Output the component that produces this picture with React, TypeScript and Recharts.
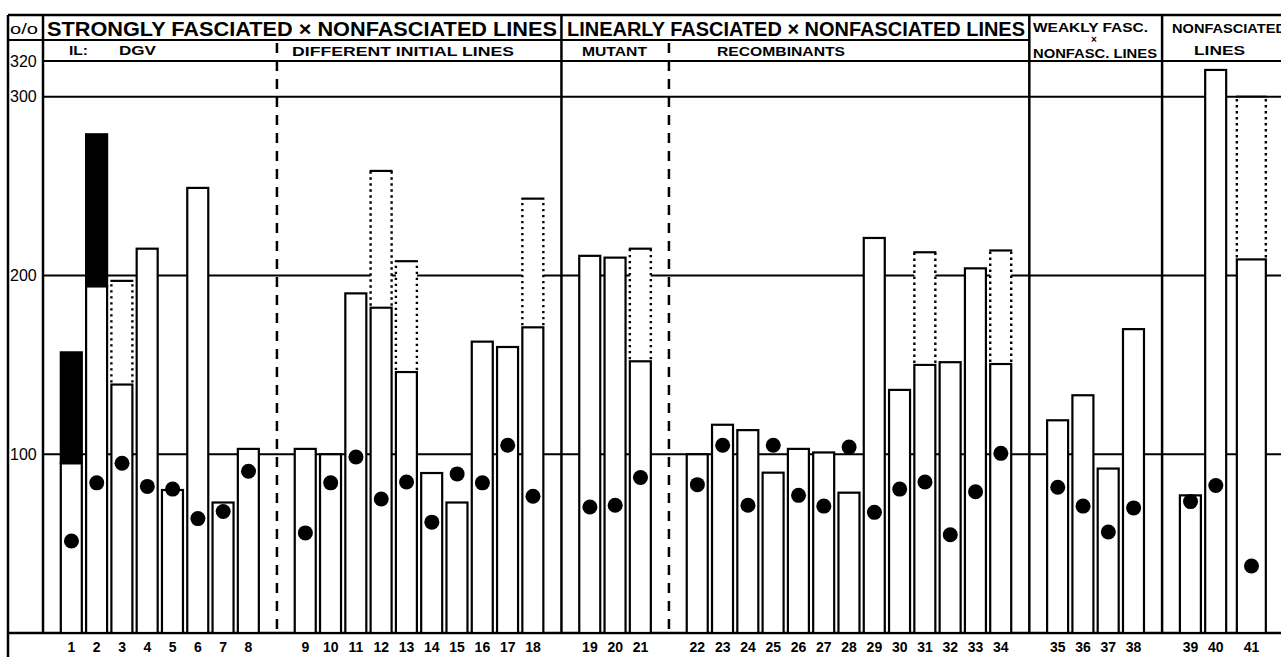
import React from 'react';
import { ComposedChart, Bar, Scatter, XAxis, YAxis, CartesianGrid, Customized } from 'recharts';

// ---------------- data ----------------
const itemLabels = ['1','2','3','4','5','6','7','8','9','10','11','12','13','14','15','16','17','18','19','20','21','22','23','24','25','26','27','28','29','30','31','32','33','34','35','36','37','38','39','40','41'];

// white (open) bar heights, %
const barValues = [95,194,139,215,80,249,73,103, 103,100,190,182,146,89.5,73,163,160,171, 211,210,152, 100,116.5,113.5,89.7,103,101,78.5,221,136,150,151.5,204,150.5, 119,133,92,170, 77,315, 209];

// tops of the solid black extensions
const blackTops = [157,279,null,null,null,null,null,null, null,null,null,null,null,null,null,null,null,null, null,null,null, null,null,null,null,null,null,null,null,null,null,null,null,null, null,null,null,null, null,null, null];

// tops of the dotted extensions
const dottedTops = [null,null,197,null,null,null,null,null, null,null,null,258.5,208,null,null,null,null,243, null,null,215, null,null,null,null,null,null,null,null,null,213,null,null,214, null,null,null,null, null,null, 300];

// black dots
const dotValues = [51.5,84,95,82,80.5,64,68,90.5, 56,84,98.5,75,84.5,62,89,84,105,76.5, 70.5,71.5,87, 83,105,71.5,105,77,71,104,67.5,80.5,84.5,55,79,100.5, 81.5,71,56.5,70, 73.5,82.5, 37.5];

const yTicks = [100, 200, 300, 320];

// ---------------- layout (groups of items) ----------------
const groupSizes = [8, 10, 3, 13, 4, 2, 1];
const groupGaps = [1.25, 1.25, 1.25, 1.25, 1.25, 0.41]; // extra slots before each following group
const dividerKinds = ['dashed', 'solid', 'dashed', 'solid', 'solid', null];
const WIDE_LABELS = ['41'];

const positions: number[] = [];
const groupFirst: number[] = [];
const groupLast: number[] = [];
{
  let p = 0;
  groupSizes.forEach((n, g) => {
    if (g > 0) p += groupGaps[g - 1];
    groupFirst.push(p);
    for (let k = 0; k < n; k++) { positions.push(p); p += 1; }
    groupLast.push(p - 1);
  });
}
const dividerPos = dividerKinds.map((_, g) => (groupLast[g] + groupFirst[g + 1]) / 2);

const CHART_W = 1300;
const CHART_H = 658;
const MARGIN = { top: 61, right: 5, bottom: 0, left: 8 };
const YAXIS_W = 35;
const XAXIS_H = 25;
const PLOT_LEFT = MARGIN.left + YAXIS_W;
const PLOT_W = CHART_W - PLOT_LEFT - MARGIN.right;
const SLOT = 25.29;
const X_MIN = -1.125;
const X_MAX = X_MIN + PLOT_W / SLOT;
const xPx = (p: number) => PLOT_LEFT + (p - X_MIN) * (PLOT_W / (X_MAX - X_MIN));

const FONT = "'Liberation Sans', Arial, Helvetica, sans-serif";
const INK = '#000';

const data = itemLabels.map((label, i) => ({
  x: positions[i],
  label,
  base: barValues[i],
  blackExtra: blackTops[i] != null ? (blackTops[i] as number) - barValues[i] : 0,
  dottedExtra: dottedTops[i] != null ? (dottedTops[i] as number) - barValues[i] : 0,
  dot: dotValues[i],
}));

function geom(props: any) {
  let { x, y, width, height } = props;
  if (height < 0) { y = y + height; height = -height; }
  const lab = props.payload?.label ?? props.label;
  if (WIDE_LABELS.includes(lab)) { x -= 4; width += 8; }
  return { x, y, width, height };
}

const BaseShape = (props: any) => {
  const { x, y, width, height } = geom(props);
  if (!height || height <= 0) return <g />;
  return <rect x={x} y={y} width={width} height={height} fill="#fff" stroke={INK} strokeWidth={2.2} />;
};

const BlackShape = (props: any) => {
  const { x, y, width, height } = geom(props);
  if (!height || height <= 0) return <g />;
  return <rect x={x} y={y} width={width} height={height} fill={INK} stroke={INK} strokeWidth={2.2} />;
};

const DottedShape = (props: any) => {
  const { x, y, width, height } = geom(props);
  if (!height || height <= 0) return <g />;
  return (
    <g>
      <rect x={x} y={y} width={width} height={Math.max(0, height - 1.5)} fill="#fff" stroke="none" />
      <line x1={x} y1={y + height - 2} x2={x} y2={y} stroke={INK} strokeWidth={2.4} strokeDasharray="2.4 3.6" />
      <line x1={x + width} y1={y + height - 2} x2={x + width} y2={y} stroke={INK} strokeWidth={2.4} strokeDasharray="2.4 3.6" />
      <line x1={x - 1} y1={y} x2={x + width + 1} y2={y} stroke={INK} strokeWidth={2.2} />
    </g>
  );
};

const DotShape = (props: any) => {
  if (props.cx == null || props.cy == null) return <g />;
  return <circle cx={props.cx} cy={props.cy} r={7.5} fill={INK} />;
};

const YTick = (props: any) => (
  <text x={props.x - 33} y={props.y} dy="0.35em" fontSize={16} fontFamily={FONT} fill={INK} textAnchor="start">
    {props.payload.value}
  </text>
);

const T = (p: any) => (
  <text
    x={p.x}
    y={p.y}
    fontSize={p.fs}
    fontWeight={p.fw ?? 700}
    fontFamily={FONT}
    fill={INK}
    textAnchor={p.anchor ?? 'start'}
    textLength={p.len}
    lengthAdjust={p.len ? 'spacingAndGlyphs' : undefined}
  >
    {p.children}
  </text>
);

const Frame = () => {
  const top = 15;
  const row1 = 40;
  const plotTop = MARGIN.top;
  const plotBottom = CHART_H - XAXIS_H;
  const outerLeft = 8;
  const right = CHART_W;
  const weakLeft = xPx(dividerPos[3]);
  const s = { stroke: INK, strokeWidth: 2 };
  return (
    <g>
      <line x1={outerLeft} y1={top} x2={right} y2={top} {...s} strokeWidth={2.5} />
      <line x1={outerLeft} y1={top} x2={outerLeft} y2={657} {...s} strokeWidth={2.5} />
      <line x1={outerLeft} y1={row1} x2={weakLeft} y2={row1} {...s} />
      <line x1={PLOT_LEFT} y1={plotTop} x2={right} y2={plotTop} {...s} />
      <line x1={outerLeft} y1={plotBottom} x2={right} y2={plotBottom} {...s} strokeWidth={2.5} />
      <line x1={PLOT_LEFT} y1={top} x2={PLOT_LEFT} y2={plotBottom} {...s} strokeWidth={2.5} />
      {dividerKinds.map((k, g) => {
        if (!k) return null;
        const x = xPx(dividerPos[g]);
        return k === 'solid'
          ? <line key={g} x1={x} y1={top} x2={x} y2={plotBottom} {...s} strokeWidth={2.5} />
          : <line key={g} x1={x} y1={43} x2={x} y2={plotBottom} {...s} strokeWidth={2.5} strokeDasharray="10 8" />;
      })}
      <T x={10} y={34} fs={14} fw={400} len={28}>o/o</T>
      <T x={47} y={36} fs={20.5} len={510}>STRONGLY FASCIATED × NONFASCIATED  LINES</T>
      <T x={567} y={36} fs={20.5} len={458}>LINEARLY FASCIATED × NONFASCIATED LINES</T>
      <T x={69} y={55} fs={13} len={19}>IL:</T>
      <T x={119} y={55} fs={13} len={37}>DGV</T>
      <T x={292} y={56} fs={13} len={222}>DIFFERENT INITIAL LINES</T>
      <T x={582} y={56} fs={13} len={65}>MUTANT</T>
      <T x={717} y={56} fs={13} len={128}>RECOMBINANTS</T>
      <T x={1033} y={32} fs={13} len={115}>WEAKLY  FASC.</T>
      <T x={1094} y={43} fs={10} anchor="middle">×</T>
      <T x={1033} y={58} fs={13} len={124}>NONFASC. LINES</T>
      <T x={1172} y={33} fs={13.5} len={114}>NONFASCIATED</T>
      <T x={1194} y={55} fs={13.5} len={51}>LINES</T>
    </g>
  );
};

const xTickFormatter = (v: number) => {
  const i = positions.findIndex((p) => Math.abs(p - v) < 1e-6);
  return i >= 0 ? itemLabels[i] : '';
};

export default function App() {
  return (
    <div style={{ position: 'fixed', left: 0, top: 0, width: 1281, height: 658, overflow: 'hidden', background: '#fff' }}>
      <ComposedChart width={CHART_W} height={CHART_H} data={data} margin={MARGIN}>
        <CartesianGrid vertical={false} stroke={INK} strokeWidth={2} strokeDasharray="" />
        <XAxis
          dataKey="x"
          type="number"
          domain={[X_MIN, X_MAX]}
          ticks={positions}
          interval={0}
          height={XAXIS_H}
          axisLine={false}
          tickLine={false}
          tickSize={6}
          tickMargin={3}
          tickFormatter={xTickFormatter}
          tick={{ fill: INK, fontSize: 14, fontWeight: 700, fontFamily: FONT }}
          allowDataOverflow
        />
        <YAxis
          type="number"
          domain={[0, 320]}
          ticks={yTicks}
          interval={0}
          width={YAXIS_W}
          axisLine={false}
          tickLine={false}
          tickSize={0}
          tickMargin={0}
          tick={<YTick />}
          allowDataOverflow
        />
        <Bar dataKey="base" stackId="s" barSize={21} shape={BaseShape} isAnimationActive={false} />
        <Bar dataKey="blackExtra" stackId="s" barSize={21} shape={BlackShape} isAnimationActive={false} />
        <Bar dataKey="dottedExtra" stackId="s" barSize={21} shape={DottedShape} isAnimationActive={false} />
        <Scatter dataKey="dot" shape={DotShape} isAnimationActive={false} />
        <Customized component={Frame} />
      </ComposedChart>
    </div>
  );
}
